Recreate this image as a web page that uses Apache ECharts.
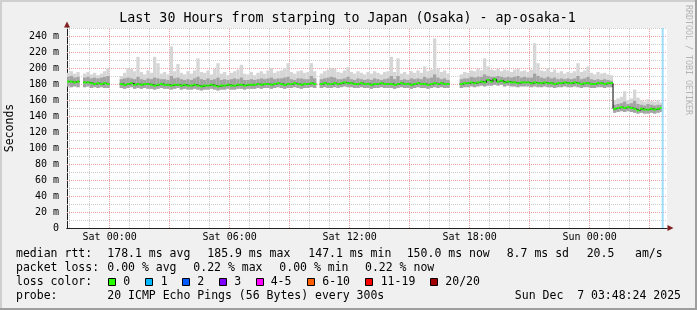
<!DOCTYPE html>
<html><head><meta charset="utf-8">
<script src="https://cdn.jsdelivr.net/npm/echarts@6/dist/echarts.min.js"></script>
<style>html,body{margin:0;padding:0;background:#f0f0f0}#c{width:697px;height:310px}</style>
</head><body><div id="c"></div><script>
// ---------------- data ----------------
const titleText = 'Last 30 Hours from starping to Japan (Osaka) - ap-osaka-1';
const yAxisName = 'Seconds';
const xTickValues = [0, 360, 720, 1080, 1440];           // minutes from Sat 00:00
const xTickLabels = ['Sat 00:00', 'Sat 06:00', 'Sat 12:00', 'Sat 18:00', 'Sun 00:00'];
const sampleStartMin = -125;   // first sample centre, minutes from Sat 00:00
const sampleStepMin = 10;
const nowMin = 1659;

// median rtt (ms)
const medianRtt = [
 183,183,182,183,null,182,182,181,180,181,180,181,180,
 null,null,null,
 180,179,180,181,179,180,179,180,180,179,178,179,180,179,179,178,179,179,178,179,
 178,178,179,178,177,178,178,179,178,177,178,178,179,178,178,179,179,178,179,179,
 179,180,179,180,180,179,180,181,180,179,180,180,181,180,179,180,180,181,180,
 null,
 180,181,180,180,181,180,181,182,181,181,180,180,181,180,180,179,180,180,181,180,
 180,180,179,180,181,180,180,179,180,181,180,180,179,180,181,180,181,180,180,
 null,null,null,
 180,181,181,182,181,182,183,182,185,183,186,183,184,182,183,182,182,181,182,182,
 182,181,182,181,181,182,181,181,180,181,181,182,181,181,182,181,180,181,181,180,180,181,181,180,181,181,
 149,150,151,150,151,150,149,147,149,148,148,149,148,149,150
];
// highest ping per sample (ms)
const maxPing = [
 194,196,193,195,null,193,195,192,194,191,193,196,200,
 null,null,null,
 190,194,200,199,196,214,195,192,197,194,214,206,193,195,192,227,196,205,194,192,
 196,193,197,212,195,194,197,192,199,206,193,195,191,194,196,198,204,193,192,195,
 191,194,196,193,197,200,194,196,197,200,206,195,193,196,197,194,195,206,196,
 null,
 193,196,198,200,199,195,194,197,201,195,193,196,194,192,195,193,196,194,192,195,
 196,214,195,212,193,195,192,196,194,197,194,202,196,198,237,199,195,197,193,
 null,null,null,
 192,195,194,197,196,199,197,212,202,198,197,199,196,198,197,195,198,199,196,197,
 195,198,231,206,197,196,200,195,198,194,196,193,195,194,196,206,195,197,202,194,192,195,193,194,192,191,
 160,162,164,171,160,162,173,163,160,158,161,159,158,160,157
];
// upper edge of the dense part of the smoke (ms)
const densePing = [
 189,190,188,189,null,188,189,187,188,187,188,189,190,
 null,null,null,
 186,187,188,187,186,189,186,185,187,186,188,187,186,186,185,190,187,188,186,185,
 186,185,187,189,186,185,187,185,186,188,185,186,185,186,187,186,188,185,185,186,
 185,186,187,186,187,188,186,187,187,188,189,186,185,187,187,186,186,190,187,
 null,
 186,187,188,189,188,186,186,187,189,186,185,187,186,185,186,185,187,186,185,186,
 187,190,186,190,185,186,185,187,186,187,186,189,187,188,192,188,186,187,185,
 null,null,null,
 186,187,187,189,188,189,189,192,190,189,189,190,189,188,189,188,189,190,188,189,
 188,188,193,190,188,187,189,187,188,186,187,186,187,186,187,190,186,187,189,186,185,186,185,186,185,184,
 154,155,156,158,155,156,159,155,154,153,155,154,153,154,154
];
// lowest ping per sample (ms)
const minPing = [
 177,176,177,176,null,176,177,175,176,175,176,175,175,
 null,null,null,
 175,174,175,176,174,175,174,175,174,174,173,174,175,174,174,173,174,175,173,174,
 173,173,174,173,172,173,173,174,173,172,173,173,174,173,173,174,174,173,174,174,
 174,175,174,175,175,174,175,176,175,174,175,175,176,175,174,175,175,176,175,
 null,
 175,176,175,175,176,175,176,177,176,176,175,175,176,175,175,174,175,175,176,175,
 175,175,174,175,176,175,175,174,175,176,175,175,174,175,176,175,176,175,175,
 null,null,null,
 175,176,176,177,176,177,178,177,178,178,179,178,179,177,178,177,177,176,177,177,
 177,176,177,176,176,177,176,176,175,176,176,177,176,176,177,176,175,176,176,175,175,176,176,175,176,176,
 144,145,146,145,146,145,144,143,144,143,143,144,143,144,145
];
const yGridValues = [10, 20, 30, 40, 50, 60, 70, 80, 90, 100, 110, 120, 130, 140, 150, 160, 170, 180, 190, 200, 210, 220, 230, 240, 250];
const statLines = [
 ['median rtt:', '178.1 ms avg', '185.9 ms max', '147.1 ms min', '150.0 ms now', '8.7 ms sd', '20.5', 'am/s'],
 ['packet loss:', '0.00 % avg', '0.22 % max', '0.00 % min', '0.22 % now']
];
const lossLabels = ['0', '1', '2', '3', '4-5', '6-10', '11-19', '20/20'];
const lossColors = ['#26ff00', '#00b8ff', '#0059ff', '#7e00ff', '#ff00ff', '#ff5e00', '#ff0000', '#a10000'];
const probeText = ['probe:', '20 ICMP Echo Pings (56 Bytes) every 300s', 'Sun Dec  7 03:48:24 2025'];

// ---------------- build ----------------
const MONO = '"DejaVu Sans Mono", monospace';
const MAJOR = '#eba0a0', MINOR = '#cccccc';
const xMin = -128, xMax = 1672, yMax = 250;
const smoke = [], medPts = [], linePts = [];
for (let i = 0; i < medianRtt.length; i++) {
  const t = sampleStartMin + i * sampleStepMin;
  if (medianRtt[i] == null) { linePts.push([t, '-']); continue; }
  smoke.push([t, minPing[i], maxPing[i], densePing[i], medianRtt[i]]);
  medPts.push([t, medianRtt[i]]);
  linePts.push([t, medianRtt[i]]);
}
const gridTimes = [];
for (let t = Math.ceil(xMin / 60) * 60; t < xMax; t += 60) gridTimes.push([t, t % 180 === 0 ? 1 : 0]);
const hGrid = yGridValues.map(v => [xMin, v]);

function bandItem(hiDim, color) {
  return function (params, api) {
    const t = api.value(0), lo = api.value(1), hi = api.value(hiDim);
    const a = api.coord([t - sampleStepMin / 2, hi]);
    const b = api.coord([t + sampleStepMin / 2, lo]);
    return { type: 'rect', shape: { x: a[0], y: a[1], width: b[0] - a[0], height: b[1] - a[1] }, style: { fill: color } };
  };
}

const chart = echarts.init(document.getElementById('c'), null, { renderer: 'canvas' });

const graphic = [
  { type: 'rect', shape: { x: 0, y: 0, width: 697, height: 2 }, style: { fill: '#cfcfcf' } },
  { type: 'rect', shape: { x: 0, y: 0, width: 2, height: 310 }, style: { fill: '#cfcfcf' } },
  { type: 'rect', shape: { x: 0, y: 308, width: 697, height: 2 }, style: { fill: '#9e9e9e' } },
  { type: 'rect', shape: { x: 695, y: 0, width: 2, height: 310 }, style: { fill: '#9e9e9e' } },
  { type: 'text', x: 347.5, y: 19, style: { text: titleText, font: '13.3px ' + MONO, fill: '#000', align: 'center', verticalAlign: 'middle' } },
  { type: 'text', x: 688.5, y: 5, rotation: -Math.PI / 2, style: { text: 'RRDTOOL / TOBI OETIKER', font: '8.3px ' + MONO, fill: '#b4b4b4', align: 'left', verticalAlign: 'middle' } }
];
const statX = [[16, 107.3, 207.3, 308.3, 406.7, 506.7, 586.7, 635], [16, 107.3, 193.3, 279.3, 365]];
const lineY = [254.3, 268.3, 282.3, 296];
statLines.forEach((row, r) => row.forEach((s, k) => graphic.push(
  { type: 'text', x: statX[r][k], y: lineY[r], style: { text: s, font: '11.5px ' + MONO, fill: '#000', verticalAlign: 'middle' } })));
graphic.push({ type: 'text', x: 16, y: lineY[2], style: { text: 'loss color:', font: '11.5px ' + MONO, fill: '#000', verticalAlign: 'middle' } });
const boxX = [108.5, 145.5, 182.5, 219.5, 256.5, 307.5, 365.5, 430.5];
const lblX = [123.3, 160.7, 197.3, 234.3, 270.7, 322.3, 380.7, 445.3];
lossLabels.forEach((l, k) => {
  graphic.push({ type: 'rect', shape: { x: boxX[k], y: 278.5, width: 7, height: 7 }, style: { fill: lossColors[k], stroke: '#000', lineWidth: 1 } });
  graphic.push({ type: 'text', x: lblX[k], y: lineY[2], style: { text: l, font: '11.5px ' + MONO, fill: '#000', verticalAlign: 'middle' } });
});
graphic.push({ type: 'text', x: 16, y: lineY[3], style: { text: probeText[0], font: '11.5px ' + MONO, fill: '#000', verticalAlign: 'middle' } });
graphic.push({ type: 'text', x: 107.3, y: lineY[3], style: { text: probeText[1], font: '11.5px ' + MONO, fill: '#000', verticalAlign: 'middle' } });
graphic.push({ type: 'text', x: 681, y: lineY[3], style: { text: probeText[2], font: '11.5px ' + MONO, fill: '#000', align: 'right', verticalAlign: 'middle' } });

chart.setOption({
  animation: false,
  backgroundColor: '#f0f0f0',
  grid: { left: 67, top: 28, width: 600, height: 200, show: true, backgroundColor: '#ffffff', borderWidth: 0,
          containLabel: false, outerBoundsMode: 'none' },
  xAxis: [{
    type: 'value', min: xMin, max: xMax, z: 1,
    axisLine: { show: true, onZero: false, lineStyle: { color: '#202020', width: 1 } },
    axisTick: { show: false }, splitLine: { show: false },
    axisLabel: { customValues: xTickValues, formatter: v => xTickLabels[xTickValues.indexOf(v)] || '', fontFamily: MONO, fontSize: 10, color: '#000', margin: 4 }
  }, {
    type: 'value', min: xMin, max: xMax, position: 'bottom', z: 0,
    axisLine: { show: true, onZero: false, symbol: ['none', 'triangle'], symbolSize: [6, 6], symbolOffset: [0, 3.5], lineStyle: { color: '#802020', width: 1 } },
    axisTick: { show: false }, splitLine: { show: false }, axisLabel: { show: false }
  }],
  yAxis: [{
    type: 'value', min: 0, max: yMax, interval: 10, z: 1,
    name: yAxisName, nameLocation: 'middle', nameGap: 51, nameRotate: 90,
    nameTextStyle: { fontFamily: MONO, fontSize: 11.5, color: '#000' },
    axisLine: { show: true, onZero: false, lineStyle: { color: '#202020', width: 1 } },
    axisTick: { show: false },
    axisLabel: { formatter: v => (v % 20 ? '' : (v === 0 ? '0' : v + ' m')), fontFamily: MONO, fontSize: 10, color: '#000', margin: 8 },
    splitLine: { show: false }
  }, {
    type: 'value', min: 0, max: yMax, position: 'left', z: 0,
    axisLine: { show: true, onZero: false, symbol: ['none', 'triangle'], symbolSize: [6, 6], symbolOffset: [0, 3.5], lineStyle: { color: '#802020', width: 1 } },
    axisTick: { show: false }, splitLine: { show: false }, axisLabel: { show: false }
  }],
  graphic: graphic,
  series: [
    { type: 'custom', name: 'hgrid', data: hGrid, silent: true, z: 2,
      renderItem: function (params, api) {
        const v = api.value(1);
        const a = api.coord([xMin, v]), b = api.coord([xMax, v]);
        const y = Math.round(a[1]) + 0.5;
        return { type: 'line', shape: { x1: a[0], y1: y, x2: b[0], y2: y },
          style: { stroke: v % 20 === 0 ? MAJOR : MINOR, lineWidth: 1, lineDash: [1, 1] } };
      } },
    { type: 'custom', name: 'vgrid', data: gridTimes, silent: true, z: 2,
      renderItem: function (params, api) {
        const t = api.value(0), major = api.value(1);
        const a = api.coord([t, 0]), b = api.coord([t, yMax]);
        const x = Math.round(a[0]) - 0.5;
        return { type: 'line', shape: { x1: x, y1: a[1], x2: x, y2: b[1] },
          style: { stroke: major ? MAJOR : MINOR, lineWidth: 1, lineDash: [1, 1] } };
      } },
    { type: 'custom', name: 'smokeAll', data: smoke, clip: true, silent: true, z: 3, renderItem: bandItem(2, '#d6d6d6') },
    { type: 'custom', name: 'smokeDense', data: smoke, clip: true, silent: true, z: 4, renderItem: bandItem(3, '#a4a4a4') },
    { type: 'line', name: 'medianLine', data: linePts, step: 'middle', showSymbol: false, symbol: 'none', connectNulls: false,
      lineStyle: { color: '#000', width: 1 }, z: 5, silent: true },
    { type: 'custom', name: 'median', data: medPts, clip: true, silent: true, z: 6,
      renderItem: function (params, api) {
        const t = api.value(0), m = api.value(1);
        const a = api.coord([t - sampleStepMin / 2 + 0.5, m]), b = api.coord([t + sampleStepMin / 2 - 0.5, m]);
        return { type: 'rect', shape: { x: a[0], y: a[1] - 1, width: b[0] - a[0], height: 2 }, style: { fill: lossColors[0] } };
      } },
    { type: 'custom', name: 'now', data: [[nowMin]], silent: true, z: 7,
      renderItem: function (params, api) {
        const a = api.coord([api.value(0), 0]), b = api.coord([api.value(0), yMax]);
        return { type: 'rect', shape: { x: a[0] - 1, y: b[1], width: 2, height: a[1] - b[1] }, style: { fill: '#9fdcf8' } };
      } }
  ]
});
</script></body></html>
